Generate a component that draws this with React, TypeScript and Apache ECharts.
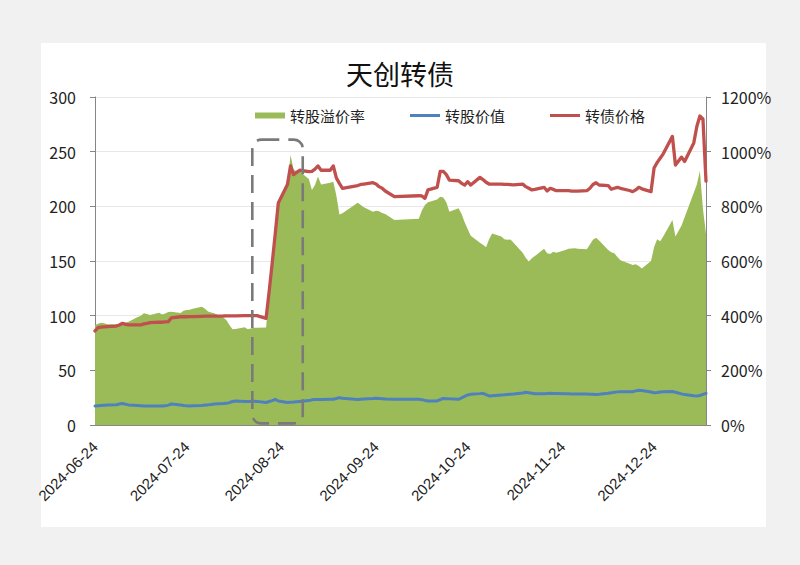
import React, { useEffect, useRef } from "react";
import * as echarts from "echarts";

const DATES = [
  "2024-06-24","2024-06-25","2024-06-26","2024-06-27","2024-06-28",
  "2024-07-01","2024-07-02","2024-07-03","2024-07-04","2024-07-05","2024-07-08","2024-07-09","2024-07-10","2024-07-11","2024-07-12",
  "2024-07-15","2024-07-16","2024-07-17","2024-07-18","2024-07-19","2024-07-22","2024-07-23","2024-07-24","2024-07-25","2024-07-26",
  "2024-07-29","2024-07-30","2024-07-31",
  "2024-08-01","2024-08-02","2024-08-05","2024-08-06","2024-08-07","2024-08-08","2024-08-09","2024-08-12","2024-08-13","2024-08-14",
  "2024-08-15","2024-08-16","2024-08-19","2024-08-20","2024-08-21","2024-08-22","2024-08-23","2024-08-26","2024-08-27","2024-08-28",
  "2024-08-29","2024-08-30",
  "2024-09-02","2024-09-03","2024-09-04","2024-09-05","2024-09-06","2024-09-09","2024-09-10","2024-09-11","2024-09-12","2024-09-13",
  "2024-09-18","2024-09-19","2024-09-20","2024-09-23","2024-09-24","2024-09-25","2024-09-26","2024-09-27","2024-09-30",
  "2024-10-08","2024-10-09","2024-10-10","2024-10-11","2024-10-14","2024-10-15","2024-10-16","2024-10-17","2024-10-18","2024-10-21",
  "2024-10-22","2024-10-23","2024-10-24","2024-10-25","2024-10-28","2024-10-29","2024-10-30","2024-10-31",
  "2024-11-01","2024-11-04","2024-11-05","2024-11-06","2024-11-07","2024-11-08","2024-11-11","2024-11-12","2024-11-13","2024-11-14",
  "2024-11-15","2024-11-18","2024-11-19","2024-11-20","2024-11-21","2024-11-22","2024-11-25","2024-11-26","2024-11-27","2024-11-28",
  "2024-11-29",
  "2024-12-02","2024-12-03","2024-12-04","2024-12-05","2024-12-06","2024-12-09","2024-12-10","2024-12-11","2024-12-12","2024-12-13",
  "2024-12-16","2024-12-17","2024-12-18","2024-12-19","2024-12-20","2024-12-23","2024-12-24","2024-12-25","2024-12-26","2024-12-27",
  "2024-12-30","2024-12-31",
  "2025-01-02","2025-01-03","2025-01-06","2025-01-07","2025-01-08","2025-01-09","2025-01-10",
];

// 转债价格 (left axis)
const PRICE = [
  86, 89, 89.6, 89.8, 90,
  90.5, 91.5, 93, 92, 91.5, 91.5, 91.5, 92.5, 93, 93.6,
  94, 94, 94.3, 94.5, 98, 99, 99, 99, 99.2, 99.2,
  99.4, 99.5, 99.5,
  99.6, 99.6, 99.7, 99.8, 99.8, 99.9, 99.9, 100, 100, 100,
  100, 100, 97.6, 122, 148, 175, 203, 220, 237, 229,
  231, 233,
  231.7, 232, 234, 237, 233, 233, 237, 226, 221, 216.5,
  219, 220, 220.4, 221.6, 220.5, 218, 216.5, 214, 208.8,
  209.7, 209.5, 207.3, 215, 217.4, 232, 232, 229, 224, 223.4,
  221, 219.5, 222.5, 219.5, 226.5, 224.5, 222, 220.4,
  220.4, 220.4, 220, 220, 219.8, 219.6, 220.4, 218, 216.5, 215,
  215.5, 217.4, 214, 216.5, 215.5, 214.3, 214.3, 214.3, 214, 214,
  214,
  214.3, 216.5, 220, 221.6, 219.5, 218.9, 215.6, 216.5, 217.4, 216.5,
  214.5, 213.4, 215, 217.4, 216, 213.4, 235, 240, 244, 248,
  264, 237.8,
  245, 241, 258, 273, 282.6, 280, 223,
];

// 转股价值 (left axis)
const CONV_VALUE = [
  17.4, 17.6, 17.8, 18, 18.2,
  18.6, 19.2, 19.6, 19, 18.4, 17.8, 17.6, 17.4, 17.4, 17.3,
  17.3, 17.3, 17.5, 18.2, 19.2, 18.4, 17.8, 17.5, 17.3, 17.6,
  17.8, 18.2, 18.4,
  18.8, 19.2, 19.6, 19.8, 20.5, 21.5, 22, 21.6, 21.4, 21.5,
  21.8, 21.6, 20.6, 21.5, 22.3, 23.5, 22, 20.6, 20.8, 21,
  21.3, 21.6,
  22.3, 23, 23.3, 23.4, 23.4, 23.5, 23.5, 24.2, 25, 24.4,
  23.3, 23.6, 23.8, 24.2, 24.4, 24.3, 24.1, 23.8, 23.5,
  23.5, 23.2, 22.5, 22, 22, 23.3, 24.2, 24.1, 23.9, 23.5,
  24.8, 26.2, 27.5, 28.1, 28.7, 29, 27.8, 26.6,
  26.8, 27.4, 27.6, 27.9, 28.2, 28.4, 29.3, 29.9, 29.5, 29,
  28.5, 28.6, 28.8, 29, 28.9, 28.8, 28.6, 28.5, 28.4, 28.4,
  28.3,
  28.3, 28.2, 28.1, 28, 28.2, 29, 29.4, 29.9, 30.3, 30.5,
  30.5, 30.4, 31.2, 31.8, 31.5, 30.2, 29.5, 29.8, 30.2, 30.5,
  30.6, 30,
  28.5, 27.8, 26.8, 26.6, 27, 28, 29,
];

// 转股溢价率 in % (right axis)
const PREMIUM = [
  366, 370, 374, 372, 369,
  369, 370, 372, 375, 378, 395, 400, 409, 406, 402,
  411, 404, 408, 413, 414, 410, 418, 421, 422, 425,
  433, 425, 415,
  412, 409, 392, 384, 366, 350, 351, 358, 350, 353,
  356, 356, 357, 480, 590, 700, 817, 880, 988, 935,
  927, 927,
  900, 860, 878, 909, 880, 886, 890, 840, 770, 775,
  813, 805, 797, 780, 784, 782, 776, 772, 750,
  755, 785, 805, 815, 825, 835, 832, 815, 780, 793,
  772, 742, 716, 692, 667, 659, 650, 680,
  701, 690, 680, 678, 679, 667, 630, 612, 598, 610,
  618, 645, 628, 626, 634, 630, 640, 645, 646, 647,
  645,
  643, 660, 678, 685, 675, 640, 632, 628, 615, 603,
  590, 585, 588, 582, 573, 600, 650, 680, 672, 690,
  750, 690,
  730, 760, 850, 880, 930, 790, 700,
];

const X_TICKS = ["2024-06-24", "2024-07-24", "2024-08-24", "2024-09-24", "2024-10-24", "2024-11-24", "2024-12-24"];

const TITLE = "天创转债";
const S_PREMIUM = "转股溢价率";
const S_VALUE = "转股价值";
const S_PRICE = "转债价格";

// highlighted window (dashed box), in data terms
const BOX_FROM = "2024-08-14";
const BOX_TO = "2024-08-31";
const BOX_LOW = 1.5;
const BOX_HIGH = 261;

const DAY_MS = 86400000;
const toMs = (s: string) => {
  const [y, m, d] = s.split("-").map(Number);
  return Date.UTC(y, m - 1, d);
};
const ORIGIN = toMs(DATES[0]);
const toDay = (s: string) => Math.round((toMs(s) - ORIGIN) / DAY_MS);
const fmtDay = (v: number) => new Date(ORIGIN + Math.round(v) * DAY_MS).toISOString().slice(0, 10);

const FONT = "'Noto Sans CJK SC', 'Noto Sans', sans-serif";
// legend icon: a 3px stripe centred in a 30x6 box
const LINE_ICON = "path://M0,0L0.01,0L0.01,0.01Z M0,1.5H30V4.5H0Z M29.99,6L30,6L30,5.99Z";

export default function App() {
  const ref = useRef<HTMLDivElement>(null);

  useEffect(() => {
    if (!ref.current) return;
    const chart = echarts.init(ref.current, undefined, { renderer: "svg" });
    const xs = DATES.map(toDay);
    const axisColor = "#868686";

    chart.setOption({
      animation: false,
      textStyle: { fontFamily: FONT },
      title: {
        text: TITLE,
        left: "center",
        top: 55,
        textStyle: { fontSize: 27, fontWeight: "normal", color: "#111", fontFamily: FONT },
      },
      legend: {
        left: 255,
        top: 108,
        padding: 0,
        itemWidth: 30,
        itemHeight: 6,
        itemGap: 45,
        textStyle: { fontSize: 15, color: "#222", fontFamily: FONT },
        data: [
          { name: S_PREMIUM, icon: "rect" },
          { name: S_VALUE, icon: LINE_ICON },
          { name: S_PRICE, icon: LINE_ICON },
        ],
      },
      grid: { left: 95, right: 94, top: 97, bottom: 140, containLabel: false },
      xAxis: {
        type: "value",
        min: 0,
        max: xs[xs.length - 1],
        axisLine: { show: true, lineStyle: { color: axisColor, width: 1 } },
        axisTick: { show: false },
        splitLine: { show: false },
        axisLabel: {
          customValues: X_TICKS.map(toDay),
          formatter: (v: number) => fmtDay(v),
          rotate: 45,
          fontSize: 15,
          fontFamily: "'Liberation Sans', Arial, sans-serif",
          color: "#222",
          margin: 19,
        },
      },
      yAxis: [
        {
          type: "value",
          min: 0,
          max: 300,
          interval: 50,
          position: "left",
          axisLine: { show: true, lineStyle: { color: axisColor } },
          axisTick: { show: true, length: 5, lineStyle: { color: axisColor } },
          splitLine: { show: true, lineStyle: { color: "#e8e8e8" } },
          axisLabel: { fontSize: 16, color: "#222", margin: 19, fontFamily: FONT },
        },
        {
          type: "value",
          min: 0,
          max: 1200,
          interval: 200,
          position: "right",
          axisLine: { show: true, lineStyle: { color: axisColor } },
          axisTick: { show: true, length: 5, lineStyle: { color: axisColor } },
          splitLine: { show: false },
          axisLabel: {
            fontSize: 16,
            color: "#222",
            margin: 15,
            formatter: (v: number) => `${v}%`,
            fontFamily: FONT,
          },
        },
      ],
      series: [
        {
          name: S_PREMIUM,
          type: "line",
          yAxisIndex: 1,
          symbol: "none",
          data: xs.map((x, i) => [x, PREMIUM[i]]),
          lineStyle: { width: 0, color: "#9bbb59" },
          itemStyle: { color: "#9bbb59" },
          areaStyle: { color: "#9bbb59", opacity: 1 },
          z: 1,
        },
        {
          name: S_VALUE,
          type: "line",
          yAxisIndex: 0,
          symbol: "none",
          data: xs.map((x, i) => [x, CONV_VALUE[i]]),
          lineStyle: { width: 3, color: "#4f81bd", join: "round", cap: "round" },
          itemStyle: { color: "#4f81bd" },
          z: 2,
        },
        {
          name: S_PRICE,
          type: "line",
          yAxisIndex: 0,
          symbol: "none",
          data: xs.map((x, i) => [x, PRICE[i]]),
          lineStyle: { width: 3.3, color: "#c0504d", join: "round", cap: "round" },
          itemStyle: { color: "#c0504d" },
          z: 3,
        },
      ],
    });

    const x1 = chart.convertToPixel({ xAxisIndex: 0 }, toDay(BOX_FROM)) as number;
    const x2 = chart.convertToPixel({ xAxisIndex: 0 }, toDay(BOX_TO)) as number;
    const y1 = chart.convertToPixel({ yAxisIndex: 0 }, BOX_HIGH) as number;
    const y2 = chart.convertToPixel({ yAxisIndex: 0 }, BOX_LOW) as number;
    chart.setOption({
      graphic: [
        {
          type: "rect",
          z: 100,
          shape: { x: x1 + 1.5, y: y1, width: x2 - x1 - 1.5, height: y2 - y1, r: 9 },
          style: { fill: "transparent", stroke: "#7a7a7a", lineWidth: 2.6, lineDash: [18, 9] },
        },
      ],
    });

    return () => chart.dispose();
  }, []);

  return (
    <div style={{ position: "fixed", left: 0, top: 0, width: 800, height: 565, background: "#f1f1f1", overflow: "hidden" }}>
      <div style={{ position: "absolute", left: 41, top: 43, width: 725, height: 484, background: "#ffffff" }} />
      <div ref={ref} style={{ position: "absolute", left: 0, top: 0, width: 800, height: 565 }} />
    </div>
  );
}
